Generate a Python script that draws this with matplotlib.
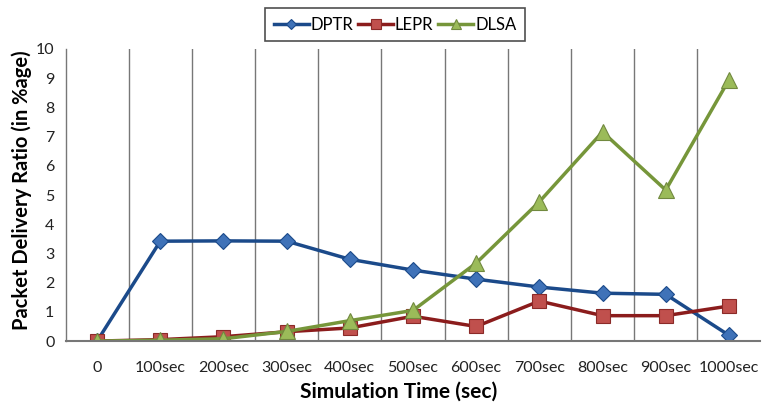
import numpy as np
import matplotlib.pyplot as plt
from matplotlib.ticker import FixedLocator

# simulation times and packet delivery ratio per protocol
times = ["0", "100sec", "200sec", "300sec", "400sec", "500sec",
         "600sec", "700sec", "800sec", "900sec", "1000sec"]
dptr = [0, 3.42, 3.43, 3.42, 2.80, 2.43, 2.12, 1.85, 1.64, 1.60, 0.20]
lepr = [0, 0.05, 0.15, 0.32, 0.45, 0.85, 0.50, 1.37, 0.87, 0.87, 1.20]
dlsa = [0, 0.03, 0.08, 0.33, 0.70, 1.05, 2.67, 4.77, 7.16, 5.17, 8.94]

plt.rcParams['font.family'] = ['Lato', 'DejaVu Sans']

fig = plt.figure(figsize=(7.62, 4.08), dpi=100)
ax = fig.add_axes([0.086, 0.164, 0.912, 0.716])

x = np.arange(len(times))
l1, = ax.plot(x, dptr, color='#1B4A8A', lw=2.5, marker='D', ms=8,
              mfc='#3F72B8', mec='#1B4A8A', mew=0.8, label='DPTR')
l2, = ax.plot(x, lepr, color='#8B1C1C', lw=2.5, marker='s', ms=10,
              mfc='#C0504D', mec='#8B2A28', mew=0.8, label='LEPR')
l3, = ax.plot(x, dlsa, color='#76963A', lw=2.5, marker='^', ms=11,
              mfc='#9BBB59', mec='#71893F', mew=0.8, label='DLSA')

ax.set_xlim(-0.5, len(times) - 0.5)
ax.set_ylim(0, 10)
ax.set_yticks(range(0, 11))
ax.set_xticks(x)
ax.set_xticklabels(times)
# vertical lines between categories
ax.xaxis.set_minor_locator(FixedLocator(np.arange(0.5, len(times) - 1, 1)))
ax.grid(which='minor', axis='x', color='#777777', lw=1)
ax.tick_params(which='both', length=0, labelsize=11.5, colors='#222222')
ax.tick_params(axis='x', pad=14)
ax.tick_params(axis='y', pad=8)

for side in ['top', 'right']:
    ax.spines[side].set_visible(False)
ax.spines['left'].set_color('#777777')
ax.spines['bottom'].set_color('#777777')
ax.spines['left'].set_linewidth(1)
ax.spines['bottom'].set_linewidth(1.5)

# axis titles, positioned in axes coords
ax.set_xlabel('Simulation Time (sec)', fontsize=15, fontweight='bold')
ax.xaxis.set_label_coords((399 - 65) / 697, -(392 - 341) / 292)
ax.xaxis.label.set_va('center')
ax.set_ylabel('Packet Delivery Ratio (in %age)', fontsize=14.5, fontweight='bold')
ax.yaxis.set_label_coords(-(65 - 21) / 697, (341 - 190) / 292)
ax.yaxis.label.set_va('center')

leg = fig.legend(handles=[l1, l2, l3], loc='center', ncol=3,
                 bbox_to_anchor=(395 / 762, 1 - 24.5 / 408), fontsize=12,
                 frameon=True, fancybox=False, handlelength=2.1, markerscale=0.7,
                 columnspacing=0.3, handletextpad=0.1, borderpad=0.5,
                 borderaxespad=0)
leg.get_frame().set_edgecolor('#222222')
leg.get_frame().set_linewidth(1.2)

fig.savefig('out.png', dpi=100)
